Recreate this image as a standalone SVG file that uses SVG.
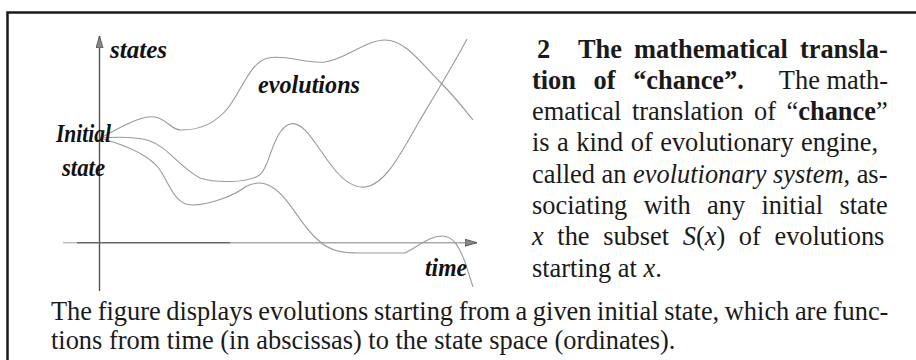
<svg xmlns="http://www.w3.org/2000/svg" width="916" height="360" viewBox="0 0 916 360">
<defs>
<style>
.frame{stroke:#1a1a1a;stroke-width:2.5;fill:none}
.axis{stroke:#555;stroke-width:1.4;fill:none}
.curve{stroke:#9a9a9a;stroke-width:1.1;fill:none}
.lbl{font-family:"Liberation Serif","Times New Roman",serif;font-weight:bold;font-style:italic;font-size:25px;fill:#111}
.tx{font-family:"Liberation Serif","Times New Roman",serif;font-size:26.4px;fill:#1a1a1a}
.b{font-weight:bold}
.i{font-style:italic}
</style>
<marker id="arr" viewBox="0 0 12 8" refX="12" refY="4" markerWidth="12" markerHeight="8" markerUnits="userSpaceOnUse" orient="auto">
<path d="M0,0.5 L12,4 L0,7.5 Z" fill="#888" stroke="#444" stroke-width="0.8"/>
</marker>
</defs>
<rect width="916" height="360" fill="#fff"/>
<g id="frame">
<path class="frame" d="M7.5,360 V12.5 H916"/>
</g>
<g id="axes">
<path class="axis" d="M99.5,291 V36" marker-end="url(#arr)"/>
<path d="M63,242.7 H77" stroke="#bbb" stroke-width="1.4"/>
<path d="M77,242.7 H230" stroke="#666" stroke-width="1.4"/>
<path d="M230,242.7 H477" stroke="#aaa" stroke-width="1.4" marker-end="url(#arr)"/>
</g>
<g id="connectors">
<path class="curve" d="M100,138 C120,128 140,115 155,117 C167,119 172,131 182,130 C200,130 215,124 228,108 C242,90 250,62 268,58 C285,54 305,64 325,62 C345,60 365,40 385,40 C405,40 420,62 440,82 C455,97 465,110 473,120"/>
<path class="curve" d="M100,138 C115,137 135,136 150,141 C168,147 180,168 200,178 C215,183 245,183 258,176 C270,170 272,130 290,124 C305,120 318,150 335,170 C345,182 355,188 365,187 C385,185 400,155 420,120 C435,95 455,62 467,39"/>
<path class="curve" d="M100,138 C125,145 150,155 160,170 C170,185 175,205 192,205 C210,205 235,195 245,187 C252,183 262,181 272,187 C290,198 300,225 318,240 C330,252 345,253 360,253 L405,253 C420,245 430,236 442,236 C455,236 460,250 465,262 L473,287"/>
</g>
<g id="labels">
<text class="lbl" x="110" y="58" textLength="57" lengthAdjust="spacingAndGlyphs">states</text>
<text class="lbl" x="258" y="93" textLength="102" lengthAdjust="spacingAndGlyphs">evolutions</text>
<text class="lbl" x="56" y="141.5" textLength="55" lengthAdjust="spacingAndGlyphs">Initial</text>
<text class="lbl" x="62" y="175.5" textLength="43" lengthAdjust="spacingAndGlyphs">state</text>
<text class="lbl" x="425" y="276" textLength="42" lengthAdjust="spacingAndGlyphs">time</text>
</g>
<g id="paragraph" class="tx">
<text class="b" x="537" y="57.5">2</text>
<text class="b" x="578" y="57.5" word-spacing="5.4">The mathematical transla-</text>
<text class="b" x="532" y="88.8" word-spacing="11">tion of “chance”.</text>
<text x="888" y="88.8" text-anchor="end">The math-</text>
<text x="532" y="120.1" word-spacing="4">ematical translation of “<tspan class="b">chance</tspan>”</text>
<text x="532" y="151.4" word-spacing="0.9">is a kind of evolutionary engine,</text>
<text x="532" y="182.7">called an <tspan class="i">evolutionary system</tspan>, as-</text>
<text x="532" y="214" word-spacing="9.8">sociating with any initial state</text>
<text x="532" y="245.3" word-spacing="7"><tspan class="i">x</tspan> the subset <tspan class="i">S</tspan>(<tspan class="i">x</tspan>) of evolutions</text>
<text x="532" y="276.6">starting at <tspan class="i">x</tspan>.</text>
</g>
<g id="caption" class="tx">
<text x="51" y="320" word-spacing="-1">The figure displays evolutions starting from a given initial state, which are func-</text>
<text x="51" y="349">tions from time (in abscissas) to the state space (ordinates).</text>
</g>
</svg>
